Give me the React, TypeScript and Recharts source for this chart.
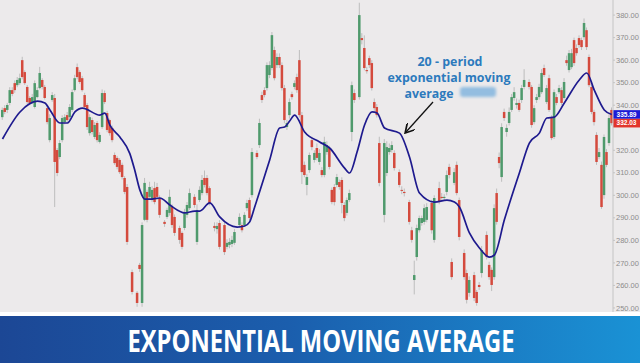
import { Bar, ComposedChart, Line, ReferenceLine, XAxis, YAxis } from 'recharts';

// [day, open, high, low, close]
type Row = [number, number, number, number, number];

const firstRally: Row[] = [
  [0, 334.7, 339, 333.5, 337.9], [1, 338.7, 340, 336, 337.0], [2, 337.9, 341, 336.5, 340.1],
  [3, 341.0, 348, 340, 346.7], [4, 346.7, 348, 344, 345.0], [5, 349.8, 351, 345.5, 346.7],
  [6, 348.9, 352.5, 348, 351.2], [7, 349.8, 354, 349, 352.0], [8, 360.0, 361.5, 351.5, 352.5],
  [9, 354.7, 355.5, 349, 349.8], [10, 348.1, 349, 340.5, 341.4], [11, 343.2, 344, 340, 341.0],
  [12, 341.4, 345, 340.5, 343.6], [13, 339.2, 351, 338.5, 349.8], [14, 343.6, 348, 343, 346.7],
  [15, 347.6, 357, 347, 354.3], [16, 351.2, 352, 347, 348.1], [17, 348.1, 349, 342.5, 343.2],
  [18, 338.7, 340, 331.5, 332.5], [19, 324.5, 336, 323.5, 334.3], [20, 342.3, 345.8, 341.5, 344.5],
  [21, 343.2, 345, 294.8, 314.8], [22, 320.1, 321, 308.5, 309.9], [23, 317.0, 324.5, 316, 323.2],
  [24, 324.5, 335.5, 323.5, 334.3], [25, 332.5, 336, 331.5, 334.7], [26, 335.6, 337, 332.5, 333.4],
  [27, 334.7, 340.5, 333.5, 339.2], [28, 337.9, 347, 337, 345.8], [29, 346.7, 353.5, 346, 352.0],
  [30, 356.9, 358.5, 351.5, 352.5], [31, 354.7, 355.5, 349.5, 350.3], [32, 352.0, 353, 346, 346.7],
  [33, 344.5, 345.5, 338.5, 339.2], [34, 340.1, 341, 329, 330.3], [35, 327.6, 336, 326.5, 334.7],
  [36, 333.4, 334.5, 327, 328.1], [37, 325.9, 332.5, 325, 331.2], [38, 332.1, 333, 323.5, 324.5],
  [39, 323.7, 328, 323, 326.8], [40, 330.3, 347, 329.5, 345.4], [41, 345.4, 346.5, 340.5, 341.4],
  [42, 336.5, 337.5, 328, 329.0], [43, 333.4, 334, 326.5, 327.6], [44, 329.9, 331, 323.5, 324.5],
  [45, 317.9, 319, 313.5, 314.3], [46, 316.6, 317.5, 311.5, 312.6], [47, 315.7, 316.5, 309.5, 310.3],
  [48, 313.5, 314.5, 307, 308.1], [49, 307.7, 308.5, 300.5, 301.5],
];

const firstSlide: Row[] = [
  [50, 303.7, 305, 278, 279.3], [52, 265.9, 267, 256, 257.1], [54, 256.7, 257.5, 250.5, 252.2],
  [55, 269.1, 270, 266, 267.3], [56, 252.2, 288, 250.5, 286.8], [57, 289.1, 307.7, 288.5, 305.5],
  [58, 301.5, 302.5, 288, 289.1], [59, 299.3, 306, 298.5, 303.7], [60, 297.9, 304, 297, 302.4],
  [61, 303.2, 306, 296, 297.0], [62, 303.7, 305.5, 298, 299.3], [63, 298.8, 300, 290, 291.3],
  [65, 288.2, 289, 286, 287.3], [66, 290.4, 294.5, 289.5, 293.5], [67, 292.2, 302.5, 291, 299.3],
  [68, 294.8, 296, 285.5, 286.8], [69, 290.4, 291.5, 282, 283.3], [71, 285.5, 286.5, 278.5, 280.2],
  [72, 283.3, 284, 276, 277.1], [73, 285.5, 294, 284.5, 292.6], [74, 291.3, 297, 290, 295.7],
  [75, 294.3, 303, 293.5, 301.0], [77, 299.3, 300.5, 294.5, 295.7], [78, 279.3, 296, 278, 293.5],
  [79, 297.9, 304, 297, 302.4], [80, 301.0, 309, 300, 306.8], [81, 307.7, 311, 303.5, 304.6],
  [82, 307.7, 309, 300, 301.0], [83, 303.2, 304, 295.5, 296.6], [85, 286.4, 288, 284, 285.5],
  [86, 285.0, 288, 283, 286.4], [87, 287.7, 289, 276, 277.1], [89, 286.8, 288, 273.5, 274.8],
  [90, 277.1, 280.5, 276, 278.9], [91, 278.0, 281, 276.5, 279.3], [92, 278.4, 282, 277, 280.2],
  [93, 278.9, 285, 278, 283.7], [95, 286.8, 292, 285.5, 290.4], [96, 286.8, 288, 283.5, 284.5],
  [97, 286.8, 292.5, 286, 291.3], [98, 294.3, 298, 293, 296.6], [99, 297.9, 299, 289, 289.9],
];

const secondRally: Row[] = [
  [100, 300.1, 321, 299, 319.2], [102, 318.8, 320, 316, 317.0], [103, 322.3, 334, 321, 332.1],
  [104, 344.5, 346, 341, 342.3], [105, 346.7, 348, 343.5, 344.5], [106, 347.6, 359, 346.5, 357.8],
  [107, 353.4, 359.5, 352, 357.8], [108, 356.5, 372.5, 355.5, 371.1], [109, 364.5, 366, 351, 352.0],
  [110, 357.8, 363, 356.5, 361.4], [111, 361.4, 363, 356.5, 357.8], [112, 357.8, 359, 346.5, 347.6],
  [113, 347.6, 349, 332, 333.4], [114, 330.3, 333.5, 329, 332.1], [115, 335.6, 343, 334, 341.4],
  [116, 344.9, 346, 342.5, 343.6], [117, 348.1, 351, 347, 349.8], [118, 352.5, 354, 345.5, 346.7],
  [119, 360.0, 364.5, 334.5, 335.6], [120, 335.6, 337, 305, 310.3], [121, 313.5, 315, 308, 309.0],
  [122, 304.6, 309.5, 300, 308.1], [123, 311.2, 319, 310, 317.9], [124, 324.5, 326, 320, 321.4],
  [125, 315.7, 320, 314.5, 318.8], [126, 321.0, 323, 315.5, 316.6], [127, 314.8, 320.5, 313.5, 318.8],
  [128, 311.2, 312.5, 308, 309.0], [129, 309.0, 326, 308, 323.7], [130, 319.2, 324, 318, 322.3],
  [131, 321.0, 322, 311.5, 312.6], [132, 302.4, 303.5, 296, 297.0], [133, 303.7, 305, 295.5, 297.0],
  [134, 304.6, 309.5, 303.5, 308.1], [135, 305.9, 307, 302.5, 303.7], [136, 306.8, 308, 292, 296.6],
  [137, 295.7, 297, 288.5, 289.9], [138, 292.2, 299, 291, 297.9], [139, 297.9, 302.5, 297, 301.0],
];

const topAndDrop: Row[] = [
  [140, 328.1, 350.5, 324, 348.9], [141, 345.4, 347, 341, 342.3], [143, 343.6, 385.5, 342.5, 380.0],
  [144, 369.8, 372, 367, 368.9], [145, 365.4, 371, 355.5, 356.5], [146, 355.6, 357, 354, 355.1],
  [147, 360.9, 362, 356.5, 357.8], [148, 358.7, 360, 346.5, 347.6], [149, 341.4, 343, 337.5, 338.7],
  [150, 339.2, 340.5, 334.5, 335.6], [151, 323.2, 326, 304, 305.5], [153, 291.3, 325, 288, 323.2],
  [154, 309.9, 324, 308.5, 321.4], [155, 319.2, 323, 318, 321.0], [156, 320.1, 324, 319, 322.3],
  [157, 318.8, 320, 311, 312.1], [159, 310.3, 311.5, 303.5, 304.6], [160, 302.4, 304, 300.5, 302.0],
  [161, 301.5, 303, 299.5, 301.0], [163, 297.0, 298, 287, 288.2], [164, 284.5, 286, 279, 280.2],
  [165, 262.4, 271, 256, 264.6], [166, 272.6, 287, 271, 285.5], [167, 284.5, 291, 283.5, 289.9],
  [168, 287.7, 291, 286.5, 289.9], [169, 288.2, 296, 287, 294.3], [170, 289.1, 296.5, 288, 294.8],
  [172, 296.6, 298, 283, 284.5], [173, 280.2, 300, 279, 298.8], [175, 303.2, 306, 296, 297.0],
  [176, 299.3, 301, 298, 298.8], [177, 298.8, 300.5, 297.5, 299.3], [178, 301.5, 311, 300, 309.0],
  [179, 312.6, 314, 307.5, 309.0], [180, 270.4, 272, 262.5, 263.7], [181, 305.5, 312, 304.5, 310.3],
  [182, 313.5, 315, 300, 301.0], [183, 297.9, 299, 280, 281.5], [185, 274.4, 276, 262.5, 263.7],
  [186, 265.5, 267, 252, 253.6], [187, 256.7, 264, 255, 262.4], [189, 264.6, 266, 253, 254.4],
  [190, 257.1, 258, 251, 252.2], [191, 260.2, 261.5, 258, 259.3], [192, 265.5, 277.5, 263.5, 275.7],
  [194, 282.4, 284, 271.5, 272.6], [195, 269.1, 270.5, 262.5, 263.7], [196, 266.9, 268, 257.5, 260.2],
];

const finalRally: Row[] = [
  [197, 263.7, 296, 262.5, 294.3], [198, 301.0, 303, 287, 288.2], [199, 317.0, 319, 312, 314.3],
  [200, 308.1, 332, 306, 330.3], [201, 337.0, 338.5, 333, 334.3], [202, 328.1, 331.5, 326, 329.9],
  [203, 332.1, 339, 331, 337.0], [204, 337.9, 345, 337, 343.6], [205, 343.2, 348, 342, 345.8],
  [206, 340.1, 343, 338.5, 341.0], [207, 341.0, 342.5, 337, 337.9], [208, 342.3, 349, 341, 347.6],
  [209, 348.1, 356, 347, 351.2], [211, 350.3, 351.5, 347, 348.1], [212, 348.1, 349, 330, 331.2],
  [213, 332.5, 340, 331.5, 338.7], [214, 342.3, 345, 341, 343.6], [215, 343.6, 349.5, 342.5, 348.1],
  [216, 345.8, 356, 345, 354.3], [217, 356.5, 358, 352.5, 353.4], [218, 341.4, 349, 340.5, 347.6],
  [219, 352.0, 353.5, 337, 337.9], [220, 334.3, 335.5, 324.5, 325.4], [221, 325.9, 347, 325, 345.8],
  [222, 343.6, 345, 340, 341.0], [223, 345.8, 349, 345, 347.6], [224, 346.7, 348, 340, 341.0],
  [225, 343.2, 352, 342.5, 350.3], [226, 360.0, 362, 357.5, 358.7], [227, 355.6, 364.5, 354.5, 363.1],
  [228, 356.9, 365, 356, 363.1], [229, 368.9, 370, 357.5, 358.7], [230, 365.4, 367, 362, 363.1],
  [231, 369.8, 371, 365.5, 366.7], [232, 368.9, 370, 364.5, 365.8], [233, 370.2, 378.5, 369, 376.5],
  [234, 373.3, 374.5, 364.5, 365.8], [235, 361.4, 362.5, 348, 348.9], [236, 348.1, 349, 336, 337.0],
  [237, 337.0, 338, 331, 332.5], [238, 326.8, 328, 313.5, 314.8], [239, 317.0, 321, 316, 319.2],
  [240, 313.5, 315, 294, 294.8], [241, 300.1, 327, 298.5, 325.9], [242, 319.2, 320.5, 312.5, 313.5],
  [243, 323.2, 336, 322, 334.3], [244, 337.9, 339, 331, 332.03],
];

// 20-period EMA: [day, value]
const emaPoints: [number, number][] = [
  [0, 325.0], [7, 337.0], [14, 341.8], [17, 341.0], [19, 337.9], [23, 332.1], [26, 332.1],
  [29, 337.0], [32, 338.7], [39, 335.6], [41, 336.5], [43, 331.2], [47, 325.9], [51, 318.5],
  [53, 311.0], [55, 302.4], [57, 298.3], [59, 298.3], [63, 298.8], [67, 295.7], [73, 292.2],
  [77, 293.0], [79, 293.0], [83, 296.6], [87, 290.4], [94, 285.9], [97, 286.4], [99, 288.2],
  [101, 294.8], [107, 315.7], [111, 329.9], [113, 330.3], [115, 333.0], [117, 335.6],
  [121, 328.1], [127, 323.7], [131, 321.0], [137, 312.1], [139, 309.9], [142, 319.2],
  [145, 331.2], [148, 337.0], [150, 336.5], [153, 329.9], [159, 327.6], [163, 317.0],
  [167, 301.0], [173, 297.0], [178, 297.9], [181, 297.0], [183, 294.8], [187, 283.3],
  [191, 276.6], [195, 272.6], [197, 273.5], [201, 289.1], [207, 309.9], [211, 323.2],
  [215, 327.6], [218, 334.3], [221, 334.7], [225, 341.0], [231, 351.2], [234, 354.3],
  [237, 346.7], [241, 337.9], [244, 335.89],
];

// 330.00 sits under the price tags in the reference, so it is not labelled
const priceTicks = [250, 260, 270, 280, 290, 300, 310, 320, 340, 350, 360, 370, 380];
const lastEma = 335.89;
const lastClose = 332.03;

const GREEN = '#4f9a6c';
const RED = '#d44a3d';
const WICK = '#bdbdbd';
const BG = '#eceaeb';

const candles = [...firstRally, ...firstSlide, ...secondRally, ...topAndDrop, ...finalRally].map(
  ([day, open, high, low, close]) => ({ day, open, high, low, close, range: [low, high] })
);
const emaData = emaPoints.map(([day, value]) => ({ day, value }));

function Candle(props: any) {
  const { x, y, width, height, payload } = props;
  if (!payload || height == null) return null;
  const { open, close, high, low } = payload;
  const k = height / (high - low || 1);
  const cx = x + width / 2;
  const top = y + (high - Math.max(open, close)) * k;
  const bottom = y + (high - Math.min(open, close)) * k;
  return (
    <g>
      <line x1={cx} x2={cx} y1={y} y2={y + height} stroke={WICK} strokeWidth={1} />
      <rect
        x={cx - 1.25}
        y={top}
        width={2.5}
        height={Math.max(bottom - top, 1)}
        fill={close >= open ? GREEN : RED}
      />
    </g>
  );
}

function priceTag(text: string, color: string) {
  return (props: any) => {
    const vb = props.viewBox || {};
    const left = (vb.x || 0) + (vb.width || 0);
    return (
      <g>
        <rect x={left} y={vb.y - 4.3} width={27} height={8.6} fill={color} />
        <text
          x={left + 13.5}
          y={vb.y + 2.3}
          textAnchor="middle"
          fill="#fff"
          fontSize={6.5}
          fontWeight={700}
          fontFamily="Liberation Sans, Arial, sans-serif"
        >
          {text}
        </text>
      </g>
    );
  };
}

export default function App() {
  return (
    <div
      style={{
        position: 'absolute',
        left: 0,
        top: 0,
        width: 640,
        height: 363,
        background: BG,
        overflow: 'hidden',
      }}
    >
      <ComposedChart
        width={640}
        height={312}
        data={candles}
        margin={{ top: 0, right: 0, bottom: 0, left: 0 }}
      >
        <XAxis type="number" dataKey="day" domain={[-1, 244.5]} allowDataOverflow hide />
        <YAxis
          orientation="right"
          width={27}
          domain={[248.2, 386.7]}
          allowDataOverflow
          ticks={priceTicks}
          interval={0}
          tickFormatter={(v: number) => v.toFixed(2)}
          tick={{ fontSize: 7.5, fill: '#8c8c8c', fontFamily: 'Liberation Sans, Arial, sans-serif' }}
          tickSize={2}
          tickMargin={1}
          stroke="#c4c4c4"
          tickLine={{ stroke: '#c4c4c4' }}
        />
        <Bar dataKey="range" barSize={2} shape={<Candle />} isAnimationActive={false} />
        <Line
          data={emaData}
          dataKey="value"
          type="monotone"
          stroke="#1e1a8e"
          strokeWidth={1.7}
          dot={false}
          activeDot={false}
          isAnimationActive={false}
        />
        <ReferenceLine y={lastEma} stroke="none" label={priceTag('335.89', '#1b1bd6')} />
        <ReferenceLine y={lastClose} stroke="none" label={priceTag('332.03', '#e2352c')} />
      </ComposedChart>

      <svg
        width={640}
        height={312}
        style={{ position: 'absolute', left: 0, top: 0, pointerEvents: 'none' }}
      >
        <defs>
          <filter id="soft" x="-20%" y="-50%" width="140%" height="200%">
            <feGaussianBlur stdDeviation="1.5" />
          </filter>
          <marker id="head" markerWidth="8" markerHeight="8" refX="6" refY="4" orient="auto">
            <path d="M0,0 L7,4 L0,8" fill="none" stroke="#111" strokeWidth={1.3} />
          </marker>
        </defs>
        <g fill="#2c7abd" fontFamily="Open Sans, sans-serif" fontWeight={700} fontSize={12.5} textAnchor="middle">
          <text x={450} y={66} textLength={65} lengthAdjust="spacingAndGlyphs">20 - period</text>
          <text x={449} y={82} textLength={123} lengthAdjust="spacingAndGlyphs">exponential moving</text>
          <text x={429} y={98} textLength={49} lengthAdjust="spacingAndGlyphs">average</text>
        </g>
        <rect x={460} y={87} width={36} height={10} rx={3} fill="#93bde0" filter="url(#soft)" />
        <line x1={433} y1={102} x2={406} y2={132} stroke="#111" strokeWidth={1.3} markerEnd="url(#head)" />
      </svg>

      <div style={{ position: 'absolute', left: 0, top: 312, width: 640, height: 4, background: '#ffffff' }} />
      <svg
        width={640}
        height={47}
        style={{ position: 'absolute', left: 0, top: 316, display: 'block' }}
      >
        <defs>
          <linearGradient id="band" x1="0" y1="0" x2="1" y2="0">
            <stop offset="0%" stopColor="#1c4795" />
            <stop offset="45%" stopColor="#1b5ead" />
            <stop offset="100%" stopColor="#1a92d5" />
          </linearGradient>
        </defs>
        <rect x={0} y={0} width={640} height={47} fill="url(#band)" />
        <text
          x={321}
          y={36}
          textAnchor="middle"
          fill="#ffffff"
          fontFamily="Open Sans, sans-serif"
          fontWeight={700}
          fontSize={31}
          textLength={387}
          lengthAdjust="spacingAndGlyphs"
        >
          EXPONENTIAL MOVING AVERAGE
        </text>
      </svg>
    </div>
  );
}
